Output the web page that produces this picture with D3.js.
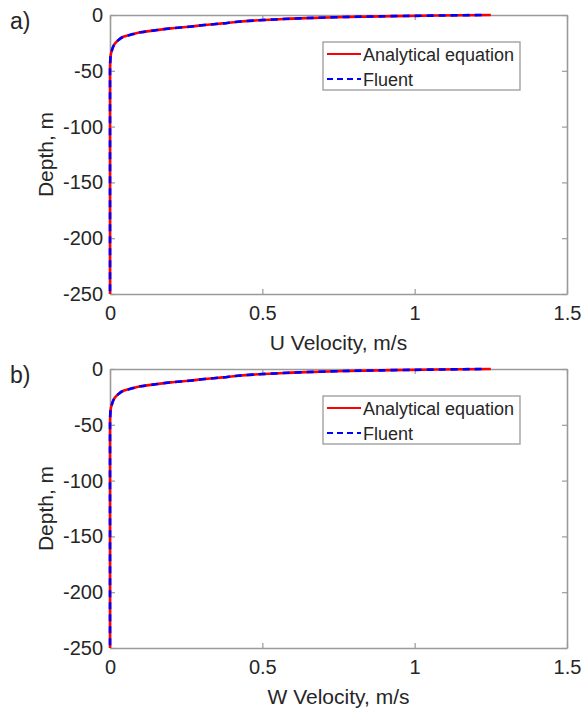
<!DOCTYPE html>
<html>
<head>
<meta charset="utf-8">
<script src="https://cdn.jsdelivr.net/npm/d3@7"></script>
<style>
  html, body { margin: 0; padding: 0; background: #fff; }
  svg { display: block; }
  text { font-family: "Liberation Sans", Arial, sans-serif; fill: #262626; }
</style>
</head>
<body>
<svg id="chart" width="582" height="710"></svg>
<script>
// ---- data ----
const depths = [0, -0.5, -1, -2, -3, -4, -5, -6, -7.5, -9, -10.5, -12, -13.5, -15.5, -17.5, -19.5, -22, -25, -28, -31, -35, -40, -50, -100, -150, -200, -250];
const uAnalytical = [1.25, 1.07, 0.93, 0.74, 0.62, 0.54, 0.47, 0.42, 0.37, 0.31, 0.26, 0.20, 0.155, 0.10, 0.07, 0.044, 0.03, 0.018, 0.011, 0.007, 0.003, 0.001, 0, 0, 0, 0, 0];
const uFluent     = [1.22, 1.07, 0.93, 0.74, 0.62, 0.54, 0.47, 0.42, 0.37, 0.31, 0.26, 0.20, 0.155, 0.10, 0.07, 0.044, 0.03, 0.018, 0.011, 0.007, 0.003, 0.001, 0, 0, 0, 0, 0];
const wAnalytical = [1.25, 1.07, 0.93, 0.74, 0.62, 0.54, 0.47, 0.42, 0.37, 0.31, 0.26, 0.20, 0.155, 0.10, 0.07, 0.044, 0.03, 0.018, 0.011, 0.007, 0.003, 0.001, 0, 0, 0, 0, 0];
const wFluent     = [1.22, 1.07, 0.93, 0.74, 0.62, 0.54, 0.47, 0.42, 0.37, 0.31, 0.26, 0.20, 0.155, 0.10, 0.07, 0.044, 0.03, 0.018, 0.011, 0.007, 0.003, 0.001, 0, 0, 0, 0, 0];
const xTicks = [0, 0.5, 1, 1.5];
const yTicks = [0, -50, -100, -150, -200, -250];
const seriesNames = ["Analytical equation", "Fluent"];
const panels = [
  { tag: "a)", xLabel: "U Velocity, m/s", analytical: uAnalytical, fluent: uFluent },
  { tag: "b)", xLabel: "W Velocity, m/s", analytical: wAnalytical, fluent: wFluent }
];

// ---- layout ----
const svg = d3.select("#chart");
svg.append("rect").attr("width", 582).attr("height", 710).attr("fill", "#fff");
const left = 110, right = 567;
const tops = [15, 369];
const plotH = 279;
const axisColor = "#9a9a9a";

panels.forEach((p, i) => {
  const top = tops[i], bottom = top + plotH;
  const x = d3.scaleLinear().domain([0, 1.5]).range([left, right]);
  const y = d3.scaleLinear().domain([-250, 0]).range([bottom, top]);
  const g = svg.append("g");

  // axes with inward ticks, mirrored on all sides (hyphen minus like MATLAB)
  const fmt = d => String(d);
  const xb = g.append("g").attr("transform", `translate(0,${bottom})`)
    .call(d3.axisBottom(x).tickValues(xTicks).tickSizeInner(-5).tickSizeOuter(0).tickPadding(12).tickFormat(fmt));
  const xt = g.append("g").attr("transform", `translate(0,${top})`)
    .call(d3.axisTop(x).tickValues(xTicks).tickSizeInner(-5).tickSizeOuter(0).tickFormat(""));
  const yl = g.append("g").attr("transform", `translate(${left},0)`)
    .call(d3.axisLeft(y).tickValues(yTicks).tickSizeInner(-5).tickSizeOuter(0).tickPadding(7).tickFormat(fmt));
  const yr = g.append("g").attr("transform", `translate(${right},0)`)
    .call(d3.axisRight(y).tickValues(yTicks).tickSizeInner(-5).tickSizeOuter(0).tickFormat(""));
  [xb, xt, yl, yr].forEach(a => {
    a.selectAll(".domain").attr("stroke", axisColor).attr("stroke-width", 1.6);
    a.selectAll(".tick line").attr("stroke", axisColor).attr("stroke-width", 1.2);
    a.selectAll(".tick text").attr("font-size", 20).attr("fill", "#262626")
      .attr("font-family", "'Liberation Sans', Arial, sans-serif");
  });

  // axis labels
  g.append("text").attr("x", (left + right) / 2).attr("y", bottom + 56)
    .attr("text-anchor", "middle").attr("font-size", 21).text(p.xLabel);
  g.append("text").attr("transform", `translate(53,${(top + bottom) / 2}) rotate(-90)`)
    .attr("text-anchor", "middle").attr("font-size", 21).text("Depth, m");
  // panel tag
  g.append("text").attr("x", 10).attr("y", top + 14).attr("font-size", 23)
    .attr("font-family", "'Open Sans', sans-serif").text(p.tag);

  // lines
  const lineA = d3.line().curve(d3.curveMonotoneY).x((d, k) => x(p.analytical[k])).y(d => y(d));
  const lineF = d3.line().curve(d3.curveMonotoneY).x((d, k) => x(p.fluent[k])).y(d => y(d));
  g.append("path").datum(depths).attr("d", lineA).attr("fill", "none")
    .attr("stroke", "#ff0000").attr("stroke-width", 2.6);
  g.append("path").datum(depths).attr("d", lineF).attr("fill", "none")
    .attr("stroke", "#0000ff").attr("stroke-width", 2.6).attr("stroke-dasharray", "7,5");

  // legend
  const lx = 323, ly = top + 27, lw = 197, lh = 48;
  const lg = g.append("g");
  lg.append("rect").attr("x", lx).attr("y", ly).attr("width", lw).attr("height", lh)
    .attr("fill", "#fff").attr("stroke", axisColor).attr("stroke-width", 1.3);
  const rows = [
    { name: seriesNames[0], color: "#ff0000", dash: null },
    { name: seriesNames[1], color: "#0000ff", dash: "6,4" }
  ];
  rows.forEach((r, k) => {
    const ry = ly + 12 + k * 25;
    lg.append("line").attr("x1", lx + 4).attr("x2", lx + 38).attr("y1", ry).attr("y2", ry)
      .attr("stroke", r.color).attr("stroke-width", 2.2).attr("stroke-dasharray", r.dash);
    lg.append("text").attr("x", lx + 40).attr("y", ry + 6.5).attr("font-size", 18).text(r.name);
  });
});
</script>
</body>
</html>
